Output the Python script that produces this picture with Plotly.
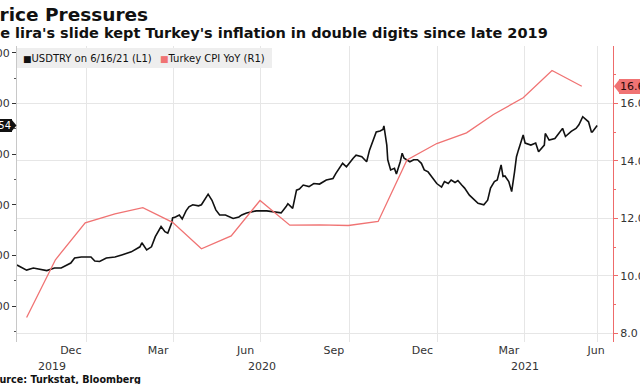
import plotly.graph_objects as go
import pandas as pd

# ---- data ----
usd_dates = [
    "2019-10-21", "2019-10-31", "2019-11-07", "2019-11-21", "2019-11-29", "2019-12-06",
    "2019-12-16", "2019-12-20", "2019-12-27", "2020-01-06", "2020-01-10", "2020-01-15",
    "2020-01-22", "2020-01-31", "2020-02-07", "2020-02-17", "2020-02-26", "2020-02-28",
    "2020-03-04", "2020-03-09", "2020-03-13", "2020-03-19", "2020-03-23", "2020-03-26",
    "2020-03-30", "2020-03-31", "2020-04-03", "2020-04-07", "2020-04-10", "2020-04-14",
    "2020-04-17", "2020-04-21", "2020-04-27", "2020-04-30", "2020-05-07", "2020-05-11",
    "2020-05-15", "2020-05-19", "2020-05-25", "2020-05-29", "2020-06-02", "2020-06-08",
    "2020-06-11", "2020-06-16", "2020-06-26", "2020-07-07", "2020-07-17", "2020-07-22",
    "2020-07-27", "2020-07-29", "2020-08-03", "2020-08-07", "2020-08-10", "2020-08-14",
    "2020-08-20", "2020-08-25", "2020-08-31", "2020-09-07", "2020-09-14", "2020-09-17",
    "2020-09-24", "2020-09-28", "2020-10-05", "2020-10-08", "2020-10-14", "2020-10-19",
    "2020-10-22", "2020-10-26", "2020-10-29", "2020-11-02", "2020-11-05", "2020-11-06",
    "2020-11-09", "2020-11-10", "2020-11-13", "2020-11-17", "2020-11-19", "2020-11-23",
    "2020-11-25", "2020-11-27", "2020-11-30", "2020-12-03", "2020-12-07", "2020-12-11",
    "2020-12-15", "2020-12-18", "2020-12-22", "2020-12-28", "2020-12-31", "2021-01-05",
    "2021-01-08", "2021-01-12", "2021-01-15", "2021-01-19", "2021-01-22", "2021-01-26",
    "2021-01-29", "2021-02-03", "2021-02-08", "2021-02-12", "2021-02-18", "2021-02-22",
    "2021-02-25", "2021-03-01", "2021-03-04", "2021-03-08", "2021-03-10", "2021-03-12",
    "2021-03-16", "2021-03-19", "2021-03-22", "2021-03-24", "2021-03-26", "2021-03-31",
    "2021-04-02", "2021-04-08", "2021-04-13", "2021-04-16", "2021-04-22", "2021-04-23",
    "2021-04-27", "2021-05-03", "2021-05-07", "2021-05-11", "2021-05-14", "2021-05-20",
    "2021-05-25", "2021-05-28", "2021-06-01", "2021-06-07", "2021-06-10", "2021-06-11",
    "2021-06-16",
]
usd_values = [
    5.81, 5.71, 5.75, 5.70, 5.75, 5.75,
    5.85, 5.95, 5.97, 5.97, 5.89, 5.88,
    5.95, 5.97, 6.01, 6.07, 6.17, 6.25,
    6.11, 6.17, 6.37, 6.57, 6.47, 6.44,
    6.64, 6.74, 6.76, 6.80, 6.72, 6.88,
    6.96, 7.00, 6.98, 7.00, 7.21, 7.09,
    6.90, 6.80, 6.80, 6.76, 6.73, 6.76,
    6.80, 6.84, 6.88, 6.88, 6.86, 6.84,
    6.96, 7.02, 6.93, 7.29, 7.31, 7.39,
    7.36, 7.42, 7.41, 7.49, 7.52, 7.62,
    7.82, 7.75, 7.92, 7.98, 7.95, 7.85,
    8.08, 8.31, 8.44, 8.46, 8.49, 8.56,
    8.18, 7.89, 7.69, 7.72, 7.61, 7.85,
    8.02, 7.92, 7.89, 7.85, 7.89, 7.89,
    7.82, 7.69, 7.65, 7.49, 7.42, 7.35,
    7.46, 7.42, 7.49, 7.44, 7.48, 7.39,
    7.33, 7.19, 7.09, 7.03, 7.00, 7.09,
    7.33, 7.46, 7.49, 7.79, 7.56, 7.57,
    7.46, 7.26, 7.65, 7.95, 8.08, 8.38,
    8.22, 8.18, 8.22, 8.05, 8.18, 8.41,
    8.28, 8.31, 8.41, 8.51, 8.35, 8.45,
    8.51, 8.58, 8.74, 8.64, 8.44, 8.44,
    8.5654,
]
cpi_dates = [
    "2019-10-31", "2019-11-30", "2019-12-31", "2020-01-31", "2020-02-29", "2020-03-31",
    "2020-04-30", "2020-05-31", "2020-06-30", "2020-07-31", "2020-08-31", "2020-09-30",
    "2020-10-31", "2020-11-30", "2020-12-31", "2021-01-31", "2021-02-28", "2021-03-31",
    "2021-04-30", "2021-05-31",
]
cpi_values = [
    8.55, 10.56, 11.84, 12.15, 12.37, 11.86,
    10.94, 11.39, 12.62, 11.76, 11.77, 11.75,
    11.89, 14.03, 14.60, 14.97, 15.61, 16.19,
    17.14, 16.59,
]
month_tick_dates = ["2019-12-16", "2020-03-16", "2020-06-15", "2020-09-15",
                    "2020-12-16", "2021-03-16", "2021-06-15"]
month_tick_text = ["Dec", "Mar", "Jun", "Sep", "Dec", "Mar", "Jun"]
quarter_grid_dates = ["2020-01-01", "2020-04-01", "2020-07-01", "2020-10-01",
                      "2021-01-01", "2021-04-01"]
years = [2019, 2020, 2021]
left_ticks = [5, 6, 7, 8, 9, 10]
right_ticks = [8, 10, 12, 14, 16]

title = "Price Pressures"
subtitle = "The lira's slide kept Turkey's inflation in double digits since late 2019"
source = "Source: Turkstat, Bloomberg"
usd_name = "USDTRY on 6/16/21 (L1)"
cpi_name = "Turkey CPI YoY (R1)"

# ---- style ----
W, H = 640, 384
ML, MR, MT, MB = 17, 27, 46, 42
PW, PH = W - ML - MR, H - MT - MB
FONT = "DejaVu Sans"
RED = "#f07373"
RED_AXIS = "#ee6b6b"
GRID = "#e6e6e6"
X_RANGE = ["2019-10-21", "2021-07-02 12:00"]

def px_x(p):
    return (p - ML) / PW

def px_y(p):
    return (H - MB - p) / PH

fig = go.Figure()
fig.add_trace(go.Scatter(x=pd.to_datetime(usd_dates), y=usd_values, mode="lines",
                         line=dict(color="#111111", width=1.6), showlegend=False,
                         name=usd_name, yaxis="y"))
fig.add_trace(go.Scatter(x=pd.to_datetime(cpi_dates), y=cpi_values, mode="lines",
                         line=dict(color=RED, width=1.3), showlegend=False,
                         name=cpi_name, yaxis="y2"))

annotations = []
shapes = []

# titles (left part cut by the frame like the reference)
annotations.append(dict(text=f"<b>{title}</b>", xref="paper", yref="paper", x=0, y=px_y(14),
                        xanchor="left", yanchor="middle", xshift=-ML - 13.8, showarrow=False,
                        borderpad=0, borderwidth=0, font=dict(family=FONT, size=18.5, color="#111")))
annotations.append(dict(text=f"<b>{subtitle}</b>", xref="paper", yref="paper", x=0, y=px_y(33),
                        xanchor="left", yanchor="middle", xshift=-ML - 20.2, showarrow=False,
                        borderpad=0, borderwidth=0, font=dict(family=FONT, size=14.5, color="#111")))
annotations.append(dict(text=f"<b>{source}</b>", xref="paper", yref="paper", x=0, y=px_y(379),
                        xanchor="left", yanchor="middle", xshift=-ML - 13.8, showarrow=False,
                        borderpad=0, borderwidth=0, font=dict(family=FONT, size=9.6, color="#111")))

# legend box
shapes.append(dict(type="rect", xref="paper", yref="paper", x0=0, x1=px_x(272),
                   y0=px_y(68), y1=px_y(48), fillcolor="#eeeeee", line=dict(width=0), layer="above"))
annotations.append(dict(text=f'<span style="font-size:9px">■</span>{usd_name}', xref="paper",
                        yref="paper", x=px_x(23), y=px_y(58), xanchor="left", yanchor="middle",
                        showarrow=False, borderpad=0, borderwidth=0,
                        font=dict(family=FONT, size=10, color="#111")))
annotations.append(dict(text=f'<span style="font-size:9px;color:{RED}">■</span>{cpi_name}',
                        xref="paper", yref="paper", x=px_x(160), y=px_y(58), xanchor="left",
                        yanchor="middle", showarrow=False, borderpad=0, borderwidth=0,
                        font=dict(family=FONT, size=10, color="#111")))

# year labels centred on visible part of each year
xr0, xr1 = pd.Timestamp(X_RANGE[0]), pd.Timestamp(X_RANGE[1])
for yr in years:
    a = max(pd.Timestamp(f"{yr}-01-01"), xr0)
    b = min(pd.Timestamp(f"{yr + 1}-01-01"), xr1)
    annotations.append(dict(text=str(yr), xref="x", yref="paper", x=a + (b - a) / 2,
                            y=px_y(366), xanchor="center", yanchor="middle", showarrow=False,
                            font=dict(family=FONT, size=11, color="#333")))

# last value labels
last_usd = usd_values[-1]
annotations.append(dict(text=f"{last_usd:.4f}", xref="paper", yref="y", x=0, y=last_usd,
                        xanchor="right", yanchor="middle", xshift=-5, showarrow=False,
                        bgcolor="#111111", borderpad=1, borderwidth=0,
                        font=dict(family=FONT, size=10, color="white")))
shapes.append(dict(type="path", xref="paper", yref="y", xsizemode="pixel", ysizemode="pixel",
                   xanchor=0, yanchor=last_usd, path="M -5.5,-6 L -0.5,0 L -5.5,6 Z",
                   fillcolor="#111111", line=dict(width=0), layer="above"))
last_cpi = cpi_values[-1]
annotations.append(dict(text=f"{last_cpi:.1f}", xref="paper", yref="y2", x=1, y=last_cpi,
                        xanchor="left", yanchor="middle", xshift=6, showarrow=False,
                        bgcolor=RED, borderpad=1, borderwidth=0,
                        font=dict(family=FONT, size=11, color="#2a0a0a")))
shapes.append(dict(type="path", xref="paper", yref="y2", xsizemode="pixel", ysizemode="pixel",
                   xanchor=1, yanchor=last_cpi, path="M 6.5,-7 L 1,0 L 6.5,7 Z",
                   fillcolor=RED, line=dict(width=0), layer="above"))

fig.update_layout(
    width=W, height=H,
    margin=dict(l=ML, r=MR, t=MT, b=MB, pad=0),
    paper_bgcolor="white", plot_bgcolor="white",
    font=dict(family=FONT, size=11, color="#333"),
    showlegend=False,
    xaxis=dict(
        range=X_RANGE, type="date",
        tickmode="array", tickvals=month_tick_dates, ticktext=month_tick_text,
        ticks="", showgrid=False, showline=False, zeroline=False,
        tickfont=dict(family=FONT, size=11, color="#333"),
        minor=dict(tickmode="array", tickvals=quarter_grid_dates + [usd_dates[-1]],
                   showgrid=True, gridcolor=GRID, gridwidth=1, ticks=""),
        automargin=False,
    ),
    yaxis=dict(
        range=[4.289, 10.138], tickmode="array", tickvals=left_ticks, tickformat=".3f",
        ticks="outside", ticklen=4, tickcolor="#333", tickwidth=1,
        showline=True, linecolor="#c8c8c8", linewidth=1, showgrid=False, zeroline=False,
        minor=dict(dtick=0.5, tick0=0, ticks="outside", ticklen=2, tickcolor="#555",
                   showgrid=False),
        tickfont=dict(family=FONT, size=11, color="#333"), automargin=False,
    ),
    yaxis2=dict(
        range=[7.70, 17.99], overlaying="y", side="right", anchor="x",
        tickmode="array", tickvals=right_ticks, tickformat=".1f",
        ticks="outside", ticklen=4, tickcolor=RED_AXIS, tickwidth=1,
        showline=True, linecolor=RED_AXIS, linewidth=1.2,
        showgrid=True, gridcolor=GRID, gridwidth=1, zeroline=False,
        minor=dict(dtick=1, tick0=0, ticks="outside", ticklen=2, tickcolor=RED_AXIS,
                   showgrid=False),
        tickfont=dict(family=FONT, size=11, color="#333"), automargin=False,
    ),
    annotations=annotations,
    shapes=shapes,
)

fig.write_html("out.html", config={"displayModeBar": False},
               post_script="document.body.style.margin='0px';")
